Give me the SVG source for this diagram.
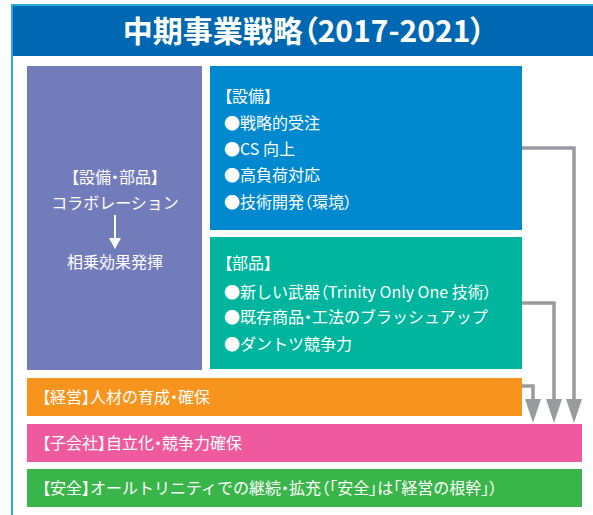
<svg xmlns="http://www.w3.org/2000/svg" width="593" height="515" viewBox="0 0 593 515">
<style>
text{font-family:"Noto Sans CJK JP","Noto Sans CJK SC",sans-serif;fill:#fff;font-size:16px;}
.p{font-feature-settings:"palt";}
.title{font-size:30px;font-weight:bold;}
.c{text-anchor:middle;}
.conn{fill:none;stroke:#9a9b9f;stroke-width:3.5;}
.head{fill:#9a9b9f;}
</style>
<rect width="593" height="515" fill="#fff"/>
<g id="frame">
<rect x="12" y="5" width="600" height="530" fill="none" stroke="#29abe2" stroke-width="2"/>
<rect x="13" y="6" width="580" height="50" fill="#0067b2"/>
<text class="title c" x="304" y="42">中期事業戦略<tspan class="p">（</tspan>2017-2021<tspan class="p">）</tspan></text>
</g>
<g id="synergy">
<rect x="27" y="66" width="175" height="304" fill="#737cbb"/>
<text class="c" x="115" y="183"><tspan class="p">【</tspan>設備<tspan class="p">・</tspan>部品<tspan class="p">】</tspan></text>
<text class="c" x="115" y="209">コラボレーション</text>
<line x1="115" y1="215" x2="115" y2="240" stroke="#fff" stroke-width="2"/>
<polygon points="109,238 121,238 115,249" fill="#fff"/>
<text class="c" x="115" y="268">相乗効果発揮</text>
</g>
<g id="equipment">
<rect x="210" y="66" width="312" height="164" fill="#0089cf"/>
<text x="224" y="102"><tspan class="p">【</tspan>設備<tspan class="p">】</tspan></text>
<text x="224" y="129">●戦略的受注</text>
<text x="224" y="155">●CS 向上</text>
<text x="224" y="181">●高負荷対応</text>
<text x="224" y="208">●技術開発<tspan class="p">（</tspan>環境<tspan class="p">）</tspan></text>
</g>
<g id="parts">
<rect x="210" y="237" width="312" height="132" fill="#00b59d"/>
<text x="224" y="269"><tspan class="p">【</tspan>部品<tspan class="p">】</tspan></text>
<text x="224" y="298">●新しい武器<tspan class="p">（</tspan>Trinity Only One 技術<tspan class="p">）</tspan></text>
<text x="224" y="323">●既存商品<tspan class="p">・</tspan>工法のブラッシュアップ</text>
<text x="224" y="350">●ダントツ競争力</text>
</g>
<g id="management">
<rect x="27" y="378" width="495" height="38" fill="#f7941e"/>
<text x="42" y="403"><tspan class="p">【</tspan>経営<tspan class="p">】</tspan>人材の育成<tspan class="p">・</tspan>確保</text>
</g>
<g id="subsidiary">
<rect x="27" y="424" width="555" height="38" fill="#ef5a9e"/>
<text x="42" y="449"><tspan class="p">【</tspan>子会社<tspan class="p">】</tspan>自立化<tspan class="p">・</tspan>競争力確保</text>
</g>
<g id="safety">
<rect x="27" y="469" width="555" height="38" fill="#3ab54a"/>
<text x="42" y="494"><tspan class="p">【</tspan>安全<tspan class="p">】</tspan>オールトリニティでの継続<tspan class="p">・</tspan>拡充<tspan class="p">（「</tspan>安全<tspan class="p">」</tspan>は<tspan class="p">「</tspan>経営の根幹<tspan class="p">」）</tspan></text>
</g>
<g id="connectors">
<polyline class="conn" points="522,148 574,148 574,402"/>
<polyline class="conn" points="522,303 554,303 554,402"/>
<polyline class="conn" points="522,386 533,386 533,402"/>
<polygon class="head" points="566,399 582,399 574,423"/>
<polygon class="head" points="546,399 562,399 554,423"/>
<polygon class="head" points="525,399 541,399 533,423"/>
</g>
</svg>
